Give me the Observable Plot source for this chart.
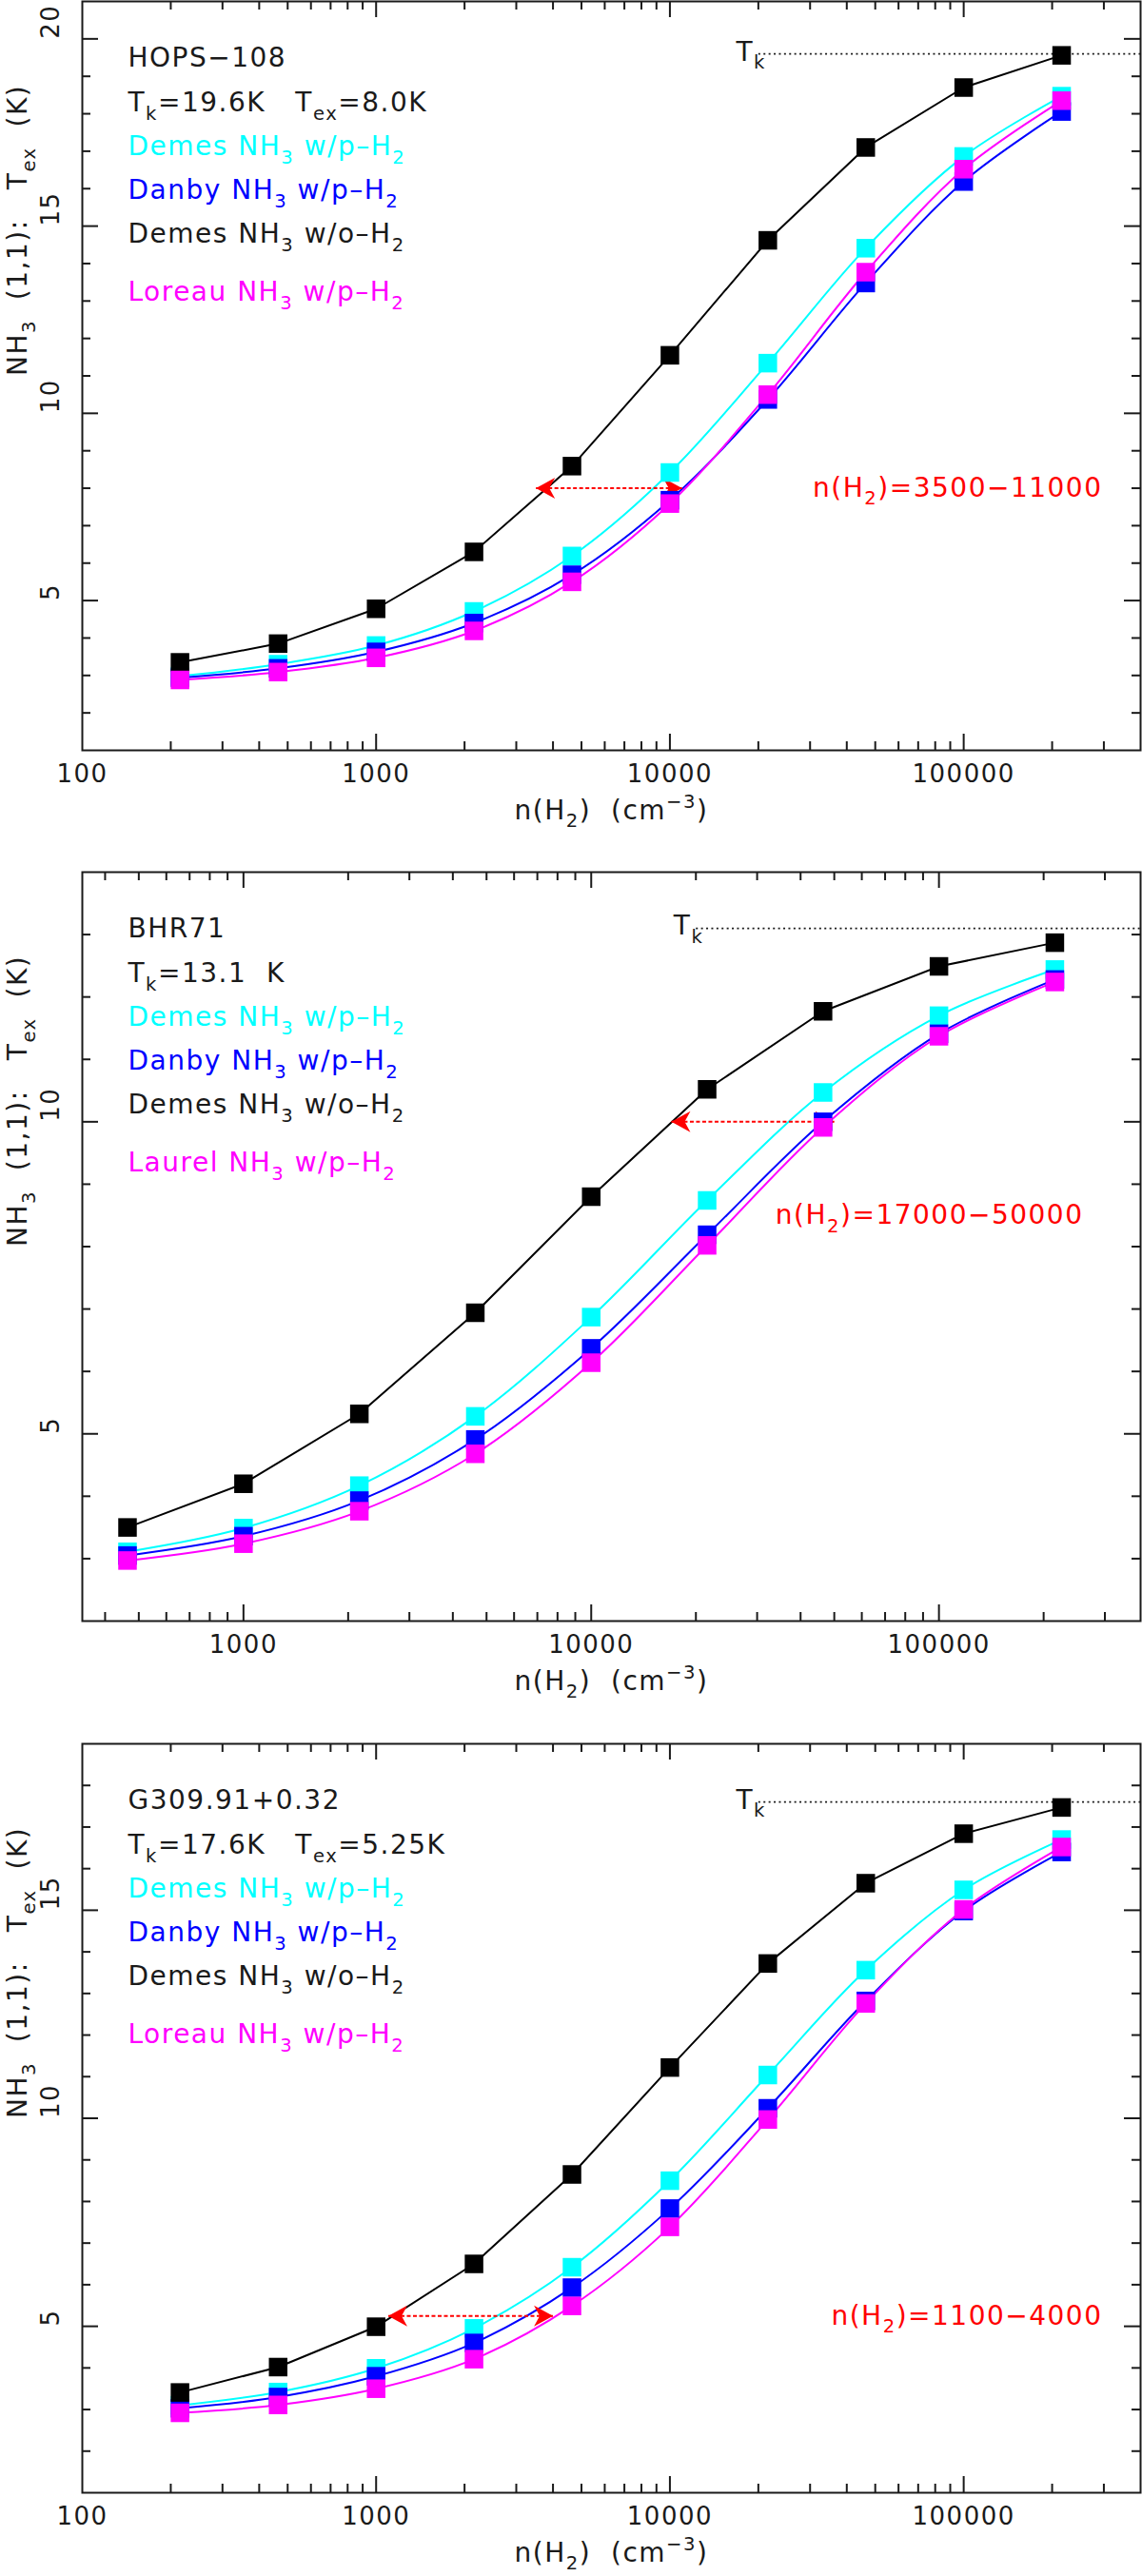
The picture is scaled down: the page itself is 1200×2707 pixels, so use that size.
<!DOCTYPE html>
<html>
<head>
<meta charset="utf-8">
<script src="https://cdn.jsdelivr.net/npm/d3@7"></script>
<script src="https://cdn.jsdelivr.net/npm/@observablehq/plot@0.6"></script>
<style>
  html, body { margin: 0; padding: 0; background: #fff; }
  #chart { width: 1200px; }
  #chart svg { display: block; }
  #chart svg text { white-space: pre; letter-spacing: 1.5px; }
</style>
</head>
<body>
<div id="chart"></div>
<script>
// H2 densities (cm^-3), spaced by a third of a decade
const densityFull = [215, 464, 1000, 2154, 4642, 10000, 21544, 46416, 100000, 215443];
const densityBHR  = [464, 1000, 2154, 4642, 10000, 21544, 46416, 100000, 215443];

// HOPS-108: NH3 (1,1) excitation temperature (K)
const hopsDemesPara  = [2.98, 3.30, 3.80, 4.71, 6.19, 8.42, 11.34, 14.41, 16.86, 18.47];
const hopsDanbyPara  = [2.94, 3.19, 3.63, 4.40, 5.69, 7.68, 10.37, 13.48, 16.19, 18.06];
const hopsDemesOrtho = [3.35, 3.85, 4.78, 6.30, 8.59, 11.55, 14.62, 17.10, 18.70, 19.56];
const hopsLoreauPara = [2.88, 3.09, 3.47, 4.19, 5.50, 7.59, 10.50, 13.77, 16.52, 18.35];

// BHR71
const bhrDemesPara  = [3.11, 3.49, 4.17, 5.28, 6.87, 8.74, 10.47, 11.70, 12.44];
const bhrDanbyPara  = [3.05, 3.36, 3.93, 4.91, 6.37, 8.19, 10.00, 11.41, 12.28];
const bhrDemesOrtho = [3.50, 4.20, 5.32, 6.94, 8.80, 10.52, 11.77, 12.49, 12.87];
const bhrLaurelPara = [2.97, 3.24, 3.76, 4.68, 6.14, 8.02, 9.91, 11.37, 12.24];

// G309.91+0.32
const gDemesPara  = [3.10, 3.42, 3.99, 4.95, 6.42, 8.50, 11.04, 13.56, 15.49, 16.70];
const gDanbyPara  = [3.03, 3.30, 3.80, 4.60, 5.93, 7.83, 10.24, 12.82, 14.98, 16.40];
const gDemesOrtho = [3.41, 4.02, 4.99, 6.50, 8.65, 11.22, 13.72, 15.65, 16.84, 17.47];
const gLoreauPara = [2.92, 3.11, 3.50, 4.21, 5.49, 7.39, 9.97, 12.76, 15.02, 16.52];

// Source names, kinetic / excitation temperatures and density ranges
const sourceNames = ["HOPS−108", "BHR71", "G309.91+0.32"];
const kineticTemps = [19.6, 13.1, 17.6];
const excitationTemps = [8.0, 10.0, 5.25];
const densityRanges = [[3500, 11000], [17000, 50000], [1100, 4000]];
const tempLines = ["T_{k}=19.6K   T_{ex}=8.0K", "T_{k}=13.1  K", "T_{k}=17.6K   T_{ex}=5.25K"];
const rangeLabels = ["n(H_{2})=3500−11000", "n(H_{2})=17000−50000", "n(H_{2})=1100−4000"];
const thirdModelNames = ["Loreau", "Laurel", "Loreau"];

// Tick labels
const xTickLabelsWide = [100, 1000, 10000, 100000];
const xTickLabelsBHR = [1000, 10000, 100000];
const yTickLabelsHops = [5, 10, 15, 20];
const yTickLabelsBHR = [5, 10];
const yTickLabelsG = [5, 10, 15];

const ink = "#1a1a1a";
const red = "#ff0000";
const seriesColors = {demesPara: "#00ffff", danbyPara: "#0000ff", demesOrtho: "#000000", thirdPara: "#ff00ff"};

const panels = [
  {density: densityFull, demesPara: hopsDemesPara, danbyPara: hopsDanbyPara, demesOrtho: hopsDemesOrtho, thirdPara: hopsLoreauPara,
   xDomain: [100, 400000], yDomain: [1, 21], xLabels: xTickLabelsWide, yLabels: yTickLabelsHops,
   height: 915, marginTop: 1, rangeDx: -40, rangeY: 8.0},
  {density: densityBHR, demesPara: bhrDemesPara, danbyPara: bhrDanbyPara, demesOrtho: bhrDemesOrtho, thirdPara: bhrLaurelPara,
   xDomain: [344, 380000], yDomain: [2, 14], xLabels: xTickLabelsBHR, yLabels: yTickLabelsBHR,
   height: 915, marginTop: 1, rangeDx: -60, rangeY: 8.5},
  {density: densityFull, demesPara: gDemesPara, danbyPara: gDanbyPara, demesOrtho: gDemesOrtho, thirdPara: gLoreauPara,
   xDomain: [100, 400000], yDomain: [1, 19], xLabels: xTickLabelsWide, yLabels: yTickLabelsG,
   height: 877, marginTop: 2, rangeDx: -40, rangeY: 5.25}
];
const plotWidth = 1200, marginLeft = 86, marginRight = 2;
const frameWidth = plotWidth - marginLeft - marginRight;
const frameHeight = 787;
const majorTick = 17, minorTick = 9;
const tkLineStart = 20000;

// Barbed arrowhead with its tip on the anchor point; dir=+1 points left, -1 points right
const arrowHead = dir => ({
  draw(context) {
    context.moveTo(0, 0);
    context.lineTo(dir * 20, -11);
    context.lineTo(dir * 14, 0);
    context.lineTo(dir * 20, 11);
    context.closePath();
  }
});

function logTicks([lo, hi]) {
  const major = [], minor = [];
  for (let e = Math.floor(Math.log10(lo)); e <= Math.ceil(Math.log10(hi)); e++) {
    for (let k = 1; k <= 9; k++) {
      const v = k * 10 ** e;
      if (v <= lo * 1.0001 || v >= hi * 0.9999) continue;
      (k === 1 ? major : minor).push(v);
    }
  }
  return {major, minor};
}

function linTicks([lo, hi]) {
  const major = [], minor = [];
  for (let v = Math.ceil(lo); v <= Math.floor(hi); v++) {
    if (v === lo || v === hi) continue;
    (v % 5 === 0 ? major : minor).push(v);
  }
  return {major, minor};
}

// Inward ticks on all four sides; tick lengths converted from pixels to data units
function frameTicks(cfg) {
  const xt = logTicks(cfg.xDomain), yt = linTicks(cfg.yDomain);
  const [x0, x1] = cfg.xDomain, [y0, y1] = cfg.yDomain;
  const yPerPx = (y1 - y0) / frameHeight;
  const decadesPerPx = Math.log10(x1 / x0) / frameWidth;
  const s = {stroke: ink, strokeWidth: 2};
  const marks = [];
  for (const [vals, len] of [[xt.major, majorTick], [xt.minor, minorTick]]) {
    const dy = len * yPerPx;
    marks.push(Plot.ruleX(vals, {x: d => d, y1: () => y0, y2: () => y0 + dy, ...s}));
    marks.push(Plot.ruleX(vals, {x: d => d, y1: () => y1 - dy, y2: () => y1, ...s}));
  }
  for (const [vals, len] of [[yt.major, majorTick], [yt.minor, minorTick]]) {
    const f = 10 ** (len * decadesPerPx);
    marks.push(Plot.ruleY(vals, {y: d => d, x1: () => x0, x2: () => x0 * f, ...s}));
    marks.push(Plot.ruleY(vals, {y: d => d, x1: () => x1 / f, x2: () => x1, ...s}));
  }
  return marks;
}

function buildPanel(cfg, i) {
  const rows = key => cfg.density.map((n, j) => ({n, t: cfg[key][j]}));
  const arrowRows = [{lo: densityRanges[i][0], hi: densityRanges[i][1], t: excitationTemps[i]}];
  const legend = [
    {text: sourceNames[i], color: ink, dy: 49},
    {text: tempLines[i], color: ink, dy: 96},
    {text: "Demes NH_{3} w/p–H_{2}", color: seriesColors.demesPara, dy: 142},
    {text: "Danby NH_{3} w/p–H_{2}", color: seriesColors.danbyPara, dy: 188},
    {text: "Demes NH_{3} w/o–H_{2}", color: ink, dy: 234},
    {text: `${thirdModelNames[i]} NH_{3} w/p–H_{2}`, color: seriesColors.thirdPara, dy: 295}
  ];
  const order = ["demesPara", "danbyPara", "demesOrtho", "thirdPara"];

  return Plot.plot({
    width: plotWidth,
    height: cfg.height,
    marginLeft,
    marginRight,
    marginTop: cfg.marginTop,
    marginBottom: cfg.height - cfg.marginTop - frameHeight,
    x: {type: "log", domain: cfg.xDomain, axis: null},
    y: {domain: cfg.yDomain, axis: null},
    style: {fontFamily: "DejaVu Sans, sans-serif", fontSize: "28px", background: "#fff", color: ink, overflow: "visible"},
    marks: [
      ...frameTicks(cfg),
      Plot.frame({stroke: ink, strokeWidth: 2}),

      // tick labels and axis titles
      Plot.text(cfg.xLabels, {x: d => d, frameAnchor: "bottom", dy: 33, text: d => String(d), fontSize: 26, fill: ink}),
      Plot.text(cfg.yLabels, {y: d => d, frameAnchor: "left", dx: -33, rotate: -90, text: d => String(d), fontSize: 26, fill: ink}),
      Plot.text(["NH_{3}  (1,1):   T_{ex}  (K)"], {frameAnchor: "left", dx: -67, rotate: -90, text: d => d, fill: ink}),
      Plot.text(["n(H_{2})  (cm^{−3})"], {frameAnchor: "bottom", dy: 72, text: d => d, fill: ink}),

      // model curves
      Plot.line(rows("demesPara"), {x: "n", y: "t", stroke: seriesColors.demesPara, strokeWidth: 2, curve: "catmull-rom"}),
      Plot.line(rows("danbyPara"), {x: "n", y: "t", stroke: seriesColors.danbyPara, strokeWidth: 2, curve: "catmull-rom"}),
      Plot.line(rows("demesOrtho"), {x: "n", y: "t", stroke: seriesColors.demesOrtho, strokeWidth: 2}),
      Plot.line(rows("thirdPara"), {x: "n", y: "t", stroke: seriesColors.thirdPara, strokeWidth: 2, curve: "catmull-rom"}),

      // kinetic temperature level
      Plot.link([{x1: tkLineStart, x2: cfg.xDomain[1], t: kineticTemps[i]}],
        {x1: "x1", x2: "x2", y1: "t", y2: "t", stroke: ink, strokeWidth: 1.8, strokeDasharray: "2,3.4"}),
      Plot.text([{x: tkLineStart, t: kineticTemps[i]}], {x: "x", y: "t", text: () => "T_{k}", textAnchor: "end", dx: 8, dy: -2, fill: ink}),

      // density range implied by the observed excitation temperature
      Plot.link(arrowRows, {x1: "lo", x2: "hi", y1: "t", y2: "t", stroke: red, strokeWidth: 2, strokeDasharray: "4,2.5"}),
      Plot.dot(arrowRows, {x: "lo", y: "t", symbol: arrowHead(1), fill: red, stroke: "none"}),
      Plot.dot(arrowRows, {x: "hi", y: "t", symbol: arrowHead(-1), fill: red, stroke: "none"}),

      // square markers
      ...order.map(key => Plot.dot(rows(key), {x: "n", y: "t", symbol: "square", r: 11, fill: seriesColors[key], stroke: "none"})),

      Plot.text([rangeLabels[i]], {frameAnchor: "right", y: () => cfg.rangeY, dx: cfg.rangeDx, textAnchor: "end", text: d => d, fill: red}),

      // legend block
      ...legend.map(l => Plot.text([l.text], {frameAnchor: "top-left", dx: 48, dy: l.dy, textAnchor: "start", text: d => d, fill: l.color}))
    ]
  });
}

// Turn _{...} and ^{...} into sub/superscript tspans
const NS = "http://www.w3.org/2000/svg";
function richText(svg) {
  svg.querySelectorAll("text").forEach(t => {
    const src = t.textContent;
    if (!/[_^]\{/.test(src)) return;
    const fs = parseFloat(getComputedStyle(t).fontSize) || 28;
    t.textContent = "";
    const re = /([_^])\{([^}]*)\}/g;
    let last = 0, m, offset = 0;
    const push = (str, shift, small) => {
      const ts = document.createElementNS(NS, "tspan");
      ts.textContent = str;
      const dy = shift - offset;
      if (dy) ts.setAttribute("dy", dy);
      if (small) ts.setAttribute("font-size", 0.7 * fs);
      offset = shift;
      t.appendChild(ts);
    };
    while ((m = re.exec(src))) {
      if (m.index > last) push(src.slice(last, m.index), 0, false);
      push(m[2], m[1] === "_" ? 0.3 * fs : -0.42 * fs, true);
      last = re.lastIndex;
    }
    if (last < src.length) push(src.slice(last), 0, false);
  });
}

const chart = document.getElementById("chart");
panels.forEach((cfg, i) => {
  const svg = buildPanel(cfg, i);
  chart.appendChild(svg);
  richText(svg);
});
</script>
</body>
</html>
